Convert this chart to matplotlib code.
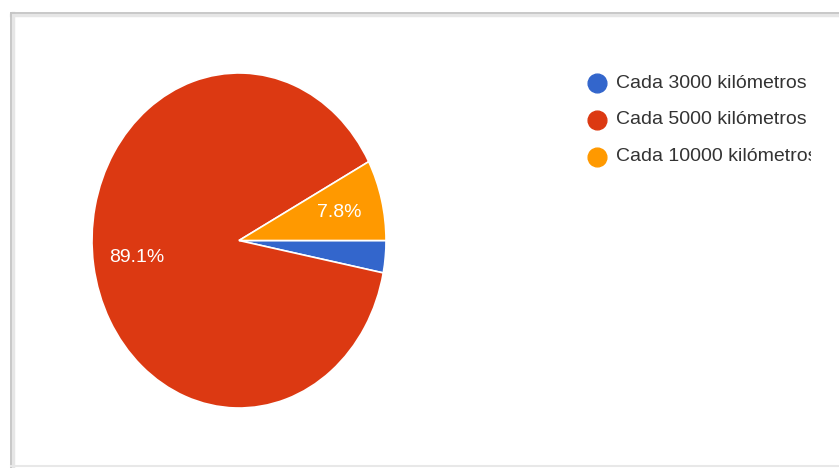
import matplotlib
matplotlib.use("Agg")
import matplotlib.pyplot as plt
from matplotlib.patches import Rectangle
from matplotlib.lines import Line2D
from matplotlib.transforms import Bbox

categories = ["Cada 3000 kilómetros", "Cada 5000 kilómetros", "Cada 10000 kilómetros"]
shares = [3.1, 89.1, 7.8]
colors = ["#3366cc", "#dc3912", "#ff9900"]

W, H = 839, 468
fig = plt.figure(figsize=(W / 100, H / 100), dpi=100)
fig.patch.set_facecolor("white")

def fx(px):
    return px / W

def fy(py):
    return 1 - py / H

# card border (left and top edges visible, slight shadow)
for off, col, lw in [(1.5, "#e6e6e6", 2.5), (0, "#c4c4c4", 1.3)]:
    fig.add_artist(Line2D([fx(11 + off), fx(11 + off)], [fy(13), fy(468)],
                          color=col, lw=lw, transform=fig.transFigure))
    fig.add_artist(Line2D([fx(11), fx(839)], [fy(13 + off), fy(13 + off)],
                          color=col, lw=lw, transform=fig.transFigure))
fig.add_artist(Line2D([fx(11), fx(839)], [fy(466), fy(466)],
                      color="#e8e8e8", lw=1.5, transform=fig.transFigure))

# pie area (slightly taller than wide)
left, right, top, bottom = 92, 386, 73, 408
ax = fig.add_axes([fx(left), fy(bottom), fx(right - left), (bottom - top) / H])
ax.set_xlim(-1, 1)
ax.set_ylim(-1, 1)

def fmt(p):
    return f"{p:.1f}%" if p > 5 else ""

wedges, texts, autotexts = ax.pie(
    shares, colors=colors, startangle=0, counterclock=False, radius=1,
    autopct=fmt, pctdistance=0.70,
    wedgeprops=dict(edgecolor="white", linewidth=1.2),
    textprops=dict(color="white", fontsize=14, family="Liberation Sans"),
)
ax.set_aspect("auto")
ax.set_xlim(-1, 1)
ax.set_ylim(-1, 1)
ax.axis("off")

# legend
clip = Bbox.from_extents(0, 0, 811, H)
rows = [83, 120, 157]
for cat, col, ry in zip(categories, colors, rows):
    fig.add_artist(Line2D([fx(597)], [fy(ry)], marker="o", markersize=13.5,
                          markerfacecolor=col, markeredgecolor=col,
                          transform=fig.transFigure))
    t = fig.text(fx(616), fy(ry), cat, fontsize=14, color="#333333",
                 family="Liberation Sans", va="center", ha="left")
    t.set_clip_box(clip)
    t.set_clip_on(True)

fig.savefig("out.png", dpi=100, facecolor="white")
